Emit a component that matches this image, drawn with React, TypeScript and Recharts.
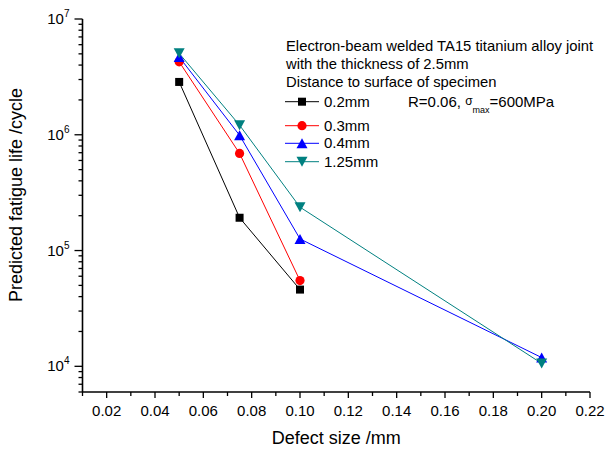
import { LineChart, Line, XAxis, YAxis } from "recharts";

// defect size (mm) for each measured point
const defectSize = [0.05, 0.075, 0.1, 0.2];

// predicted fatigue life (cycles), by distance to surface of specimen
const life02 = [2.86e6, 1.92e5, 4.6e4];
const life03 = [4.27e6, 6.9e5, 5.5e4];
const life04 = [4.7e6, 9.9e5, 1.26e5, 1.19e4];
const life125 = [5.05e6, 1.21e6, 2.37e5, 1.06e4];

const xTicks = [
  0.01, 0.02, 0.03, 0.04, 0.05, 0.06, 0.07, 0.08, 0.09, 0.1, 0.11, 0.12, 0.13,
  0.14, 0.15, 0.16, 0.17, 0.18, 0.19, 0.2, 0.21, 0.22,
];
const yMajorTicks = [1e4, 1e5, 1e6, 1e7];
const yMinorTicks = [
  6000, 7000, 8000, 9000,
  2e4, 3e4, 4e4, 5e4, 6e4, 7e4, 8e4, 9e4,
  2e5, 3e5, 4e5, 5e5, 6e5, 7e5, 8e5, 9e5,
  2e6, 3e6, 4e6, 5e6, 6e6, 7e6, 8e6, 9e6,
];

const headerLines = [
  "Electron-beam welded TA15 titanium alloy joint",
  "with the thickness of 2.5mm",
  "Distance to surface of specimen",
];

type Shape = "square" | "circle" | "triangle-up" | "triangle-down";

const toRows = (values: number[]) =>
  values.map((life, i) => ({ size: defectSize[i], life }));

const SERIES: { name: string; color: string; shape: Shape; data: { size: number; life: number }[] }[] = [
  { name: "0.2mm", color: "#000000", shape: "square", data: toRows(life02) },
  { name: "0.3mm", color: "#ff0000", shape: "circle", data: toRows(life03) },
  { name: "0.4mm", color: "#0000ff", shape: "triangle-up", data: toRows(life04) },
  { name: "1.25mm", color: "#008080", shape: "triangle-down", data: toRows(life125) },
];

const FONT = "'Liberation Sans', Arial, sans-serif";

const Marker = ({ cx, cy, shape, color }: { cx: number; cy: number; shape: Shape; color: string }) => {
  if (shape === "square") {
    return <rect x={cx - 4} y={cy - 4} width={8} height={8} fill={color} />;
  }
  if (shape === "circle") {
    return <circle cx={cx} cy={cy} r={4.6} fill={color} />;
  }
  if (shape === "triangle-up") {
    return (
      <polygon
        points={`${cx},${cy - 5} ${cx - 5.5},${cy + 5} ${cx + 5.5},${cy + 5}`}
        fill={color}
      />
    );
  }
  return (
    <polygon
      points={`${cx},${cy + 5} ${cx - 5.5},${cy - 5} ${cx + 5.5},${cy - 5}`}
      fill={color}
    />
  );
};

const XTick = ({ x, y, payload }: any) => {
  const v = payload.value as number;
  const major = Math.round(v * 100) % 2 === 0;
  return (
    <g>
      <line x1={x} x2={x} y1={y} y2={y + (major ? 6 : 4)} stroke="#000" strokeWidth={1.3} />
      {major && (
        <text x={x} y={y + 24} textAnchor="middle" fontSize={15} fontFamily={FONT} fill="#000">
          {v.toFixed(2)}
        </text>
      )}
    </g>
  );
};

const YTick = ({ x, y, payload }: any) => {
  const v = payload.value as number;
  const major = yMajorTicks.includes(v);
  return (
    <g>
      <line x1={x} x2={x - (major ? 8 : 4)} y1={y} y2={y} stroke="#000" strokeWidth={1.3} />
      {major && (
        <text x={x - 13} y={y + 5} textAnchor="end" fontSize={15} fontFamily={FONT} fill="#000">
          10
          <tspan dy={-7} fontSize={10}>
            {Math.round(Math.log10(v))}
          </tspan>
        </text>
      )}
    </g>
  );
};

const Legend = () => {
  const rowY = [101.7, 125.7, 143.3, 161.7];
  return (
    <svg
      width={606}
      height={450}
      style={{ position: "absolute", left: 0, top: 0, pointerEvents: "none" }}
      fontFamily={FONT}
    >
      {headerLines.map((t, i) => (
        <text key={t} x={286} y={51 + i * 18.2} fontSize={14.8} fill="#000">
          {t}
        </text>
      ))}
      {SERIES.map((s, i) => (
        <g key={s.name}>
          <line x1={285} x2={319} y1={rowY[i]} y2={rowY[i]} stroke={s.color} strokeWidth={1} />
          <Marker cx={302} cy={rowY[i]} shape={s.shape} color={s.color} />
          <text x={324} y={rowY[i] + 5} fontSize={15} fill="#000">
            {s.name}
          </text>
        </g>
      ))}
      <text x={408} y={106.5} fontSize={15} fill="#000">
        R=0.06,{"\u00a0"}
        <tspan fontSize={12} dy={-1.5}>σ</tspan>
        <tspan fontSize={9} dy={7.5}>max</tspan>
        <tspan fontSize={15} dy={-6}>=600MPa</tspan>
      </text>
    </svg>
  );
};

export default function App() {
  return (
    <div
      style={{
        position: "absolute",
        left: 0,
        top: 0,
        width: 606,
        height: 450,
        background: "#fff",
      }}
    >
      <LineChart width={606} height={450} margin={{ top: 19, right: 16, bottom: 0, left: 0 }}>
        <XAxis
          type="number"
          dataKey="size"
          domain={[0.01, 0.22]}
          ticks={xTicks}
          interval={0}
          height={58}
          tickSize={0}
          tickMargin={0}
          tickLine={false}
          tick={<XTick />}
          axisLine={{ stroke: "#000", strokeWidth: 1.6 }}
          allowDataOverflow
          label={{
            content: ({ viewBox }: any) => (
              <text
                x={viewBox.x + viewBox.width / 2}
                y={444}
                textAnchor="middle"
                fontSize={18}
                fontFamily={FONT}
                fill="#000"
              >
                Defect size /mm
              </text>
            ),
          }}
        />
        <YAxis
          type="number"
          dataKey="life"
          scale="log"
          domain={[6000, 1e7]}
          ticks={[...yMinorTicks, ...yMajorTicks].sort((a, b) => a - b)}
          interval={0}
          width={82.5}
          tickSize={0}
          tickMargin={0}
          tickLine={false}
          tick={<YTick />}
          axisLine={{ stroke: "#000", strokeWidth: 1.6 }}
          allowDataOverflow
          label={{
            content: () => (
              <text
                transform="translate(22, 195) rotate(-90)"
                textAnchor="middle"
                fontSize={18}
                fontFamily={FONT}
                fill="#000"
              >
                Predicted fatigue life /cycle
              </text>
            ),
          }}
        />
        {SERIES.map((s) => (
          <Line
            key={s.name}
            data={s.data}
            dataKey="life"
            name={s.name}
            type="linear"
            stroke={s.color}
            strokeWidth={1}
            isAnimationActive={false}
            activeDot={false}
            dot={(p: any) => (
              <Marker key={`${s.name}-${p.index}`} cx={p.cx} cy={p.cy} shape={s.shape} color={s.color} />
            )}
          />
        ))}
      </LineChart>
      <Legend />
    </div>
  );
}
